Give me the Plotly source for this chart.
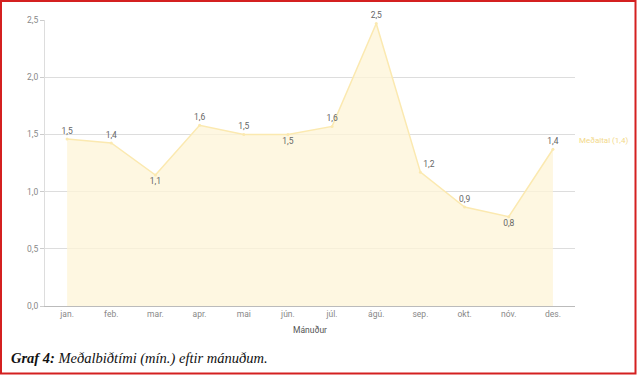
import plotly.graph_objects as go

months = ["jan.", "feb.", "mar.", "apr.", "mai", "jún.", "júl.", "ágú.", "sep.", "okt.", "nóv.", "des."]
values = [1.46, 1.425, 1.145, 1.58, 1.50, 1.50, 1.57, 2.47, 1.17, 0.865, 0.78, 1.37]
value_labels = ["1,5", "1,4", "1,1", "1,6", "1,5", "1,5", "1,6", "2,5", "1,2", "0,9", "0,8", "1,4"]
label_positions = ["top center", "top center", "bottom center", "top center", "top center", "bottom center",
                   "top center", "top center", "top right", "top center", "bottom center", "top center"]
mean_value = 1.45
mean_label = "Meðaltal (1,4)"
y_ticks = [0, 0.5, 1.0, 1.5, 2.0, 2.5]
y_tick_labels = ["0,0", "0,5", "1,0", "1,5", "2,0", "2,5"]
x_title = "Mánuður"
caption = "<b><i>Graf 4:</i></b><i> Meðalbiðtími (mín.) eftir mánuðum.</i>"

W, H = 637, 375
ML, MR, MT, MB = 45, 62, 20, 69
PW, PH = W - ML - MR, H - MT - MB

def px_x(p):
    return (p - ML) / PW

def px_y(p):
    return (H - MB - p) / PH

fig = go.Figure()
fig.add_trace(go.Scatter(
    x=months, y=values, mode="lines+markers+text",
    text=value_labels, textposition=label_positions,
    textfont=dict(family="Roboto", size=8.5, color="#666666"),
    line=dict(color="#fbe9b0", width=1.5),
    marker=dict(color="#fbe9b0", size=3),
    fill="tozeroy", fillcolor="rgba(254,244,215,0.75)",
    cliponaxis=False, showlegend=False,
))
fig.add_trace(go.Scatter(
    x=[-0.5, 11.5], y=[mean_value, mean_value], mode="lines",
    line=dict(color="#f3dc8c", width=1.2), showlegend=False, hoverinfo="skip",
))
fig.add_annotation(
    x=1, xref="paper", y=mean_value, yref="y", text=mean_label, showarrow=False,
    xanchor="left", xshift=2, font=dict(family="Roboto", size=8, color="#f3d98a"),
)
fig.add_annotation(
    x=px_x(9), xref="paper", y=px_y(358), yref="paper", text=caption, showarrow=False,
    xanchor="left", yanchor="middle", font=dict(family="Liberation Serif", size=14.5, color="#111111"),
)
fig.add_shape(
    type="rect", xref="paper", yref="paper",
    x0=px_x(1), x1=px_x(635.5), y0=px_y(373.5), y1=px_y(1),
    line=dict(color="#d42020", width=2), layer="above",
)

fig.update_xaxes(
    type="category", range=[-0.5, 11.5], showgrid=False,
    showline=True, linecolor="#bbbbbb", linewidth=1,
    tickfont=dict(family="Roboto", size=8.5, color="#888888"),
    ticks="", title=dict(text=x_title, font=dict(family="Roboto", size=8.5, color="#555555"), standoff=8),
)
fig.update_yaxes(
    range=[0, 2.5], tickvals=y_ticks, ticktext=y_tick_labels,
    showgrid=True, gridcolor="#dddddd", gridwidth=1,
    showline=True, linecolor="#dddddd", zeroline=False,
    ticks="outside", ticklen=4, tickcolor="#cccccc",
    tickfont=dict(family="Roboto", size=8.5, color="#888888"),
)
fig.update_layout(
    width=W, height=H, margin=dict(l=ML, r=MR, t=MT, b=MB),
    plot_bgcolor="white", paper_bgcolor="white",
)
fig.write_html("out.html", config={"displayModeBar": False},
               post_script="document.body.style.margin='0';document.body.style.overflow='hidden';")
